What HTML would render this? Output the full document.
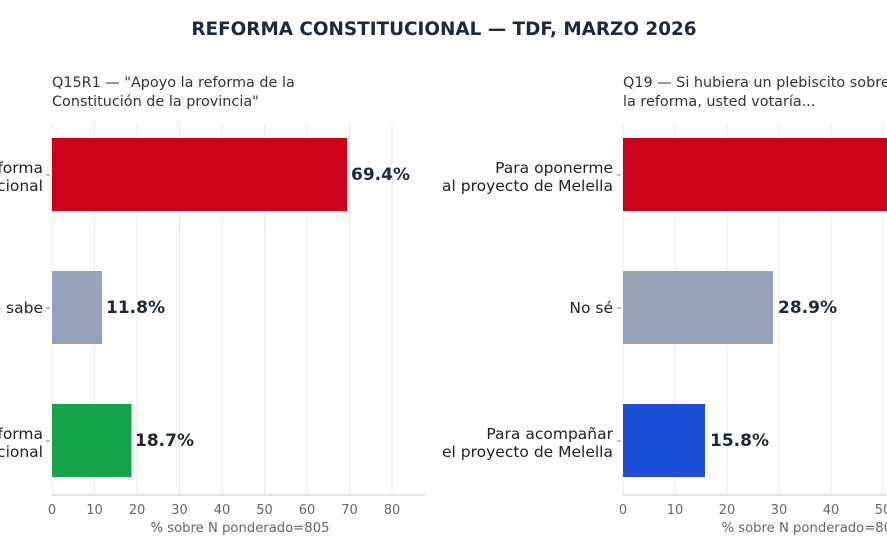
<!DOCTYPE html>
<html><head><meta charset="utf-8"><style>
body{margin:0;background:#fff;}
svg{display:block;font-family:"DejaVu Sans","Liberation Sans",sans-serif;}
</style></head><body>
<svg width="887" height="554" viewBox="0 0 887 554" xmlns="http://www.w3.org/2000/svg">
<rect width="887" height="554" fill="#fff"/>
<text x="444" y="35" text-anchor="middle" font-size="18.4" font-weight="bold" fill="#1f2937">REFORMA CONSTITUCIONAL — TDF, MARZO 2026</text>

<!-- Left panel -->
<text x="52" y="87" font-size="14.4" fill="#333">Q15R1 — "Apoyo la reforma de la</text>
<text x="52" y="106" font-size="14.4" fill="#333">Constitución de la provincia"</text>
<g stroke="#ececec" stroke-width="1">
<line x1="52" y1="122" x2="52" y2="495"/>
<line x1="94.5" y1="122" x2="94.5" y2="495"/>
<line x1="137" y1="122" x2="137" y2="495"/>
<line x1="179.5" y1="122" x2="179.5" y2="495"/>
<line x1="222" y1="122" x2="222" y2="495"/>
<line x1="264.5" y1="122" x2="264.5" y2="495"/>
<line x1="307" y1="122" x2="307" y2="495"/>
<line x1="349.5" y1="122" x2="349.5" y2="495"/>
<line x1="392" y1="122" x2="392" y2="495"/>
</g>
<line x1="52" y1="495" x2="425" y2="495" stroke="#ccc"/>
<rect x="52" y="138" width="295" height="73" fill="#cc0018"/>
<rect x="52" y="271" width="50" height="73" fill="#94a3b8"/>
<rect x="52" y="404" width="79.5" height="73" fill="#16a34a"/>
<text x="351" y="180" font-size="17" font-weight="bold" fill="#1f2937">69.4%</text>
<text x="106" y="313" font-size="17" font-weight="bold" fill="#1f2937">11.8%</text>
<text x="135" y="446" font-size="17" font-weight="bold" fill="#1f2937">18.7%</text>
<g font-size="15.5" fill="#222" text-anchor="end">
<text x="43" y="173">Apoyo la reforma</text>
<text x="43" y="191">constitucional</text>
<text x="43" y="313">No sabe</text>
<text x="43" y="439">Rechazo la reforma</text>
<text x="43" y="457">constitucional</text>
</g>
<g stroke="#888"><line x1="46" y1="175" x2="50" y2="175"/><line x1="46" y1="308" x2="50" y2="308"/><line x1="46" y1="441" x2="50" y2="441"/></g>
<g font-size="13" fill="#666" text-anchor="middle">
<text x="52" y="514">0</text><text x="94.5" y="514">10</text><text x="137" y="514">20</text><text x="179.5" y="514">30</text><text x="222" y="514">40</text><text x="264.5" y="514">50</text><text x="307" y="514">60</text><text x="349.5" y="514">70</text><text x="392" y="514">80</text>
</g>
<text x="240" y="532" font-size="13.2" fill="#666" text-anchor="middle">% sobre N ponderado=805</text>

<!-- Right panel -->
<text x="623" y="87" font-size="14.4" fill="#333">Q19 — Si hubiera un plebiscito sobre</text>
<text x="623" y="106" font-size="14.4" fill="#333">la reforma, usted votaría...</text>
<g stroke="#ececec" stroke-width="1">
<line x1="623" y1="122" x2="623" y2="495"/>
<line x1="675" y1="122" x2="675" y2="495"/>
<line x1="727" y1="122" x2="727" y2="495"/>
<line x1="779" y1="122" x2="779" y2="495"/>
<line x1="831" y1="122" x2="831" y2="495"/>
<line x1="883" y1="122" x2="883" y2="495"/>
</g>
<line x1="623" y1="495" x2="887" y2="495" stroke="#ccc"/>
<rect x="623" y="138" width="264" height="73" fill="#cc0018"/>
<rect x="623" y="271" width="150" height="73" fill="#94a3b8"/>
<rect x="623" y="404" width="82" height="73" fill="#1d4ed8"/>
<text x="778" y="313" font-size="17" font-weight="bold" fill="#1f2937">28.9%</text>
<text x="710" y="446" font-size="17" font-weight="bold" fill="#1f2937">15.8%</text>
<g font-size="15.5" fill="#222" text-anchor="end">
<text x="613" y="173">Para oponerme</text>
<text x="613" y="191">al proyecto de Melella</text>
<text x="613" y="313">No sé</text>
<text x="613" y="439">Para acompañar</text>
<text x="613" y="457">el proyecto de Melella</text>
</g>
<g stroke="#888"><line x1="617" y1="175" x2="621" y2="175"/><line x1="617" y1="308" x2="621" y2="308"/><line x1="617" y1="441" x2="621" y2="441"/></g>
<g font-size="13" fill="#666" text-anchor="middle">
<text x="623" y="514">0</text><text x="675" y="514">10</text><text x="727" y="514">20</text><text x="779" y="514">30</text><text x="831" y="514">40</text><text x="883" y="514">50</text>
</g>
<text x="811" y="532" font-size="13.2" fill="#666" text-anchor="middle">% sobre N ponderado=805</text>
</svg>
</body></html>
